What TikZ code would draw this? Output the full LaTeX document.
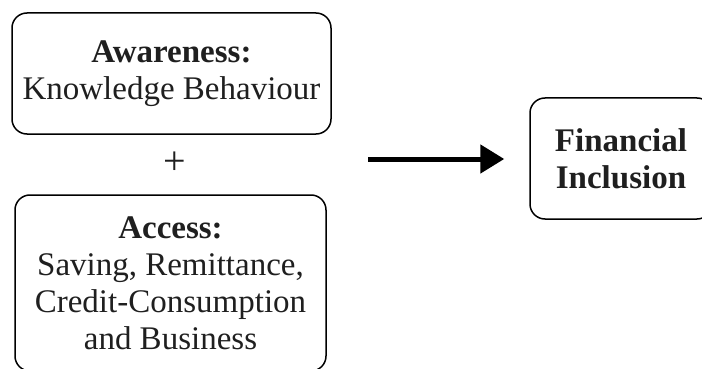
\documentclass[tikz,border=0pt]{standalone}
\usepackage{fontspec}
\setmainfont{Liberation Serif}
\usetikzlibrary{positioning}
\usetikzlibrary{arrows.meta}
\tikzset{
	every path/.style={thick},
	factor/.style={draw, rounded corners=15pt, line width=1.5pt, align=center, inner sep=0pt, text=black!88, font=\fontsize{33}{37}\selectfont},
}

\begin{document}
\begin{tikzpicture}[x=1pt,y=-1pt]
	\useasboundingbox (0,0) rectangle (702,369);
	
	% awareness box.....................
	\node [factor, minimum width=319pt, minimum height=121pt] (aware) at (171.5,73.5) {\textbf{Awareness:}\\Knowledge Behaviour};
	
	% plus.....................
	\node [text=black!88, font=\fontsize{40}{40}\selectfont] (plus) at (175,163) {+};
	
	% access box......................
	\node [factor, minimum width=311pt, minimum height=176pt] (access) at (170.5,283) {\textbf{Access:}\\Saving, Remittance,\\Credit-Consumption\\and Business};
	
	% financial inclusion box...................
	\node [factor, minimum width=182pt, minimum height=121pt] (fin) at (621,158.5) {\textbf{Financial}\\\textbf{Inclusion}};
	
	% arrow.............
	\coordinate (arrowstart) at (368,159);
	\draw [line width=5pt, -{Triangle[length=24pt,width=28pt]}, shorten >=25pt] (arrowstart) -- (arrowstart -| fin.west);
\end{tikzpicture}
\end{document}
